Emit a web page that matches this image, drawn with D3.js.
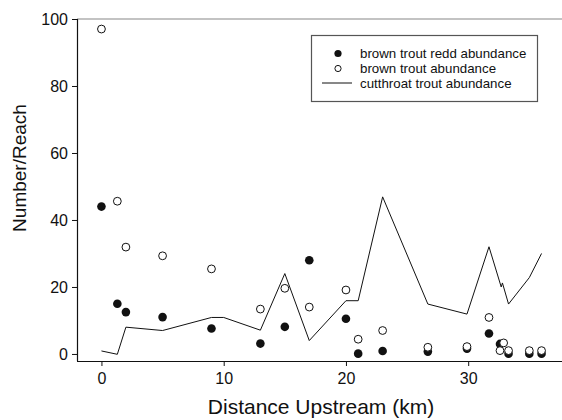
<!DOCTYPE html>
<html><head><meta charset="utf-8">
<script src="https://cdn.jsdelivr.net/npm/d3@7"></script>
<style>body{margin:0;background:#fff}svg{display:block}text{font-family:"Liberation Sans",Arial,sans-serif;fill:#111}</style>
</head><body><svg id="c" width="562" height="420"></svg>
<script>
// Data
const reddX = [0, 1.3, 2.0, 5.0, 9.0, 13.0, 15.0, 17.0, 20.0, 21.0, 23.0, 26.7, 29.9, 31.7, 32.6, 33.3, 35.0, 36.0];
const reddY = [44, 15.0, 12.5, 11.0, 7.6, 3.1, 8.1, 28.0, 10.5, 0.1, 0.9, 0.7, 1.6, 6.1, 3.0, 0.1, 0.1, 0.1];
const brownX = [0, 1.3, 2.0, 5.0, 9.0, 13.0, 15.0, 17.0, 20.0, 21.0, 23.0, 26.7, 29.9, 31.7, 32.9, 32.6, 33.3, 35.0, 36.0];
const brownY = [97.0, 45.6, 31.9, 29.3, 25.4, 13.4, 19.6, 14.0, 19.1, 4.4, 7.0, 2.0, 2.2, 10.9, 3.3, 1.0, 1.0, 1.0, 1.0];
const cutX = [0, 1.3, 2.0, 5.0, 9.0, 10.0, 13.0, 15.0, 17.0, 20.0, 21.0, 23.0, 26.7, 29.9, 31.7, 32.7, 32.8, 33.3, 35.0, 36.0];
const cutY = [0.9, -0.1, 8.0, 7.0, 10.9, 10.9, 7.1, 24.0, 4.0, 15.9, 15.9, 46.9, 14.9, 11.9, 32.0, 20.0, 21.2, 14.9, 22.8, 30.0];
const xTicks = [0, 10, 20, 30];
const yTicks = [0, 20, 40, 60, 80, 100];
const legendLabels = ["brown trout redd abundance", "brown trout abundance", "cutthroat trout abundance"];
const xTitle = "Distance Upstream (km)";
const yTitle = "Number/Reach";

const svg = d3.select("#c");
const x = d3.scaleLinear().domain([-2, 38]).range([77, 566]);
const y = d3.scaleLinear().domain([-2.1, 100]).range([361, 19]);

// top frame line
svg.append("line").attr("x1", 77).attr("x2", 566).attr("y1", y(100)).attr("y2", y(100))
  .attr("stroke", "#888").attr("stroke-width", 1.2);

// axes
const xAxis = svg.append("g").attr("transform", "translate(0,361)")
  .call(d3.axisBottom(x).tickValues(xTicks).tickSize(5).tickPadding(7).tickFormat(d3.format("d")));
const yAxis = svg.append("g").attr("transform", "translate(77,0)")
  .call(d3.axisLeft(y).tickValues(yTicks).tickSize(5).tickPadding(4).tickFormat(d3.format("d")));
[xAxis, yAxis].forEach(g => {
  g.select(".domain").attr("stroke", "#111").attr("stroke-width", 1.2);
  g.selectAll(".tick line").attr("stroke", "#111");
  g.selectAll("text").attr("font-size", 16).attr("font-family", '"Liberation Sans",Arial,sans-serif').attr("fill", "#111");
});
xAxis.select(".domain").attr("d", "M77,0.5H566");
yAxis.select(".domain").attr("d", "M0.5," + y(100) + "V361");

// line
const line = d3.line().x((d, i) => x(cutX[i])).y((d, i) => y(cutY[i]));
svg.append("path").datum(cutY).attr("d", line).attr("fill", "none").attr("stroke", "#111").attr("stroke-width", 1);

// filled circles
svg.append("g").selectAll("circle").data(reddY).join("circle")
  .attr("cx", (d, i) => x(reddX[i])).attr("cy", d => y(d)).attr("r", 4.3).attr("fill", "#111");
// open circles
svg.append("g").selectAll("circle").data(brownY).join("circle")
  .attr("cx", (d, i) => x(brownX[i])).attr("cy", d => y(d)).attr("r", 3.9)
  .attr("fill", "#fff").attr("stroke", "#111").attr("stroke-width", 1);

// legend
const lg = svg.append("g");
lg.append("rect").attr("x", 311.5).attr("y", 35.5).attr("width", 226).attr("height", 66)
  .attr("fill", "#fff").attr("stroke", "#555").attr("stroke-width", 1.2);
const ly = [53.5, 68.5, 83];
lg.append("circle").attr("cx", 338).attr("cy", ly[0]).attr("r", 3.6).attr("fill", "#111");
lg.append("circle").attr("cx", 338).attr("cy", ly[1]).attr("r", 3.1).attr("fill", "#fff").attr("stroke", "#111");
lg.append("line").attr("x1", 322).attr("x2", 352).attr("y1", ly[2]).attr("y2", ly[2]).attr("stroke", "#111");
lg.selectAll("text.l").data(legendLabels).join("text").attr("class", "l")
  .attr("x", 360).attr("y", (d, i) => ly[i]).attr("dy", "0.35em").attr("font-size", 13.3).text(d => d);

// titles
svg.append("text").attr("x", 321).attr("y", 414).attr("text-anchor", "middle").attr("font-size", 21).text(xTitle);
svg.append("text").attr("transform", "translate(26,168) rotate(-90)").attr("text-anchor", "middle")
  .attr("font-size", 19).text(yTitle);
</script></body></html>
